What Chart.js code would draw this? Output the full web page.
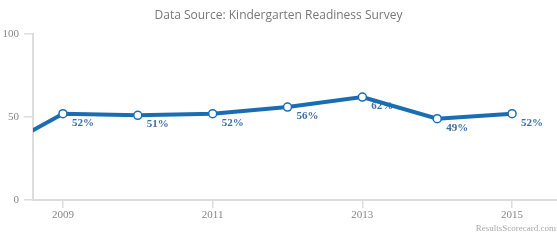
<!DOCTYPE html>
<html>
<head>
<meta charset="utf-8">
<script src="https://cdn.jsdelivr.net/npm/chart.js@4/dist/chart.umd.min.js"></script>
<style>
  html, body { margin: 0; padding: 0; background: #fff; }
  canvas { display: block; }
</style>
</head>
<body>
<canvas id="readinessChart" width="557" height="240"></canvas>
<script>
// values (2008 is only partly visible at the left edge)
const years = [2008, 2009, 2010, 2011, 2012, 2013, 2014, 2015];
const readiness = [27, 52, 51, 52, 56, 62, 49, 52];
const xTickYears = [2009, 2011, 2013, 2015];
const yTickValues = [0, 50, 100];

const lineBlue = '#1b6db3';

// percentage labels under/right of each visible point
const pointLabels = {
  id: 'pointLabels',
  beforeDatasetsDraw(chart) {
    const ctx = chart.ctx;
    const area = chart.chartArea;
    const meta = chart.getDatasetMeta(0);
    ctx.save();
    ctx.font = 'bold 11px "Liberation Serif", serif';
    ctx.fillStyle = '#3b6ea8';
    ctx.textAlign = 'left';
    ctx.textBaseline = 'middle';
    meta.data.forEach((pt, i) => {
      if (pt.x < area.left || pt.x > area.right) return;
      ctx.fillText(readiness[i] + '%', pt.x + 9, pt.y + 9);
    });
    ctx.restore();
  }
};

const watermark = {
  id: 'watermark',
  afterDraw(chart) {
    const ctx = chart.ctx;
    ctx.save();
    ctx.font = '9px "Liberation Serif", serif';
    ctx.fillStyle = '#aaaaaa';
    ctx.textAlign = 'right';
    ctx.textBaseline = 'middle';
    ctx.fillText('ResultsScorecard.com', chart.width - 1, 229);
    ctx.restore();
  }
};

const ctx = document.getElementById('readinessChart').getContext('2d');

new Chart(ctx, {
  type: 'line',
  data: {
    datasets: [{
      label: 'Kindergarten Readiness',
      data: years.map((y, i) => ({ x: y, y: readiness[i] })),
      borderColor: lineBlue,
      borderWidth: 4,
      backgroundColor: '#ffffff',
      pointBackgroundColor: '#ffffff',
      pointBorderColor: lineBlue,
      pointBorderWidth: 1.5,
      pointRadius: 4,
      tension: 0
    }]
  },
  options: {
    responsive: false,
    animation: false,
    layout: { padding: 0, autoPadding: false },
    plugins: {
      legend: { display: false },
      tooltip: { enabled: false },
      title: {
        display: true,
        text: 'Data Source: Kindergarten Readiness Survey',
        color: '#777777',
        font: { family: '"Open Sans", sans-serif', size: 12, weight: 'normal' },
        padding: { top: 8, bottom: 11.6 }
      }
    },
    scales: {
      x: {
        type: 'linear',
        min: 2008.6,
        max: 2015.6,
        afterBuildTicks(scale) {
          scale.ticks = xTickYears.map(v => ({ value: v }));
        },
        afterFit(scale) {
          scale.height = 40;
          scale.paddingLeft = 0;
          scale.paddingRight = 0;
        },
        ticks: {
          color: '#888888',
          font: { family: '"Liberation Serif", serif', size: 11 },
          padding: 1,
          maxRotation: 0,
          callback: v => String(v)
        },
        grid: { drawOnChartArea: false, drawTicks: true, tickLength: 8, color: '#dddddd', lineWidth: 1.5 },
        border: { display: true, color: '#dddddd', width: 2 }
      },
      y: {
        min: 0,
        max: 100,
        afterBuildTicks(scale) {
          scale.ticks = yTickValues.map(v => ({ value: v }));
        },
        afterFit(scale) { scale.width = 33; },
        ticks: {
          color: '#888888',
          font: { family: '"Liberation Serif", serif', size: 11 },
          padding: 5
        },
        grid: { drawOnChartArea: false, drawTicks: true, tickLength: 9, color: '#dddddd', lineWidth: 1.5 },
        border: { display: true, color: '#dddddd', width: 2 }
      }
    }
  },
  plugins: [pointLabels, watermark]
});
</script>
</body>
</html>
